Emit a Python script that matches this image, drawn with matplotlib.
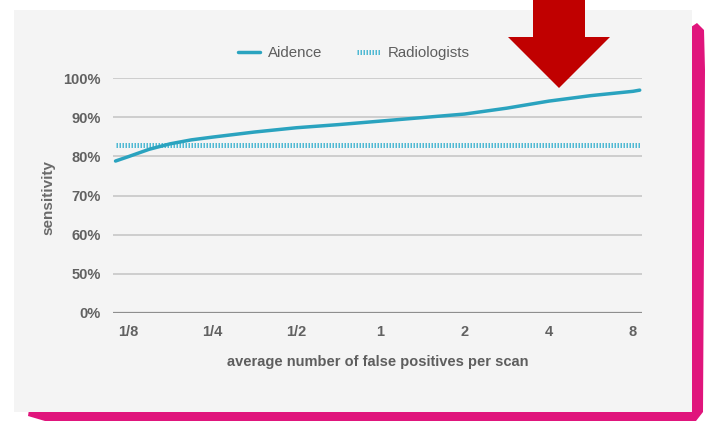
import numpy as np
import matplotlib
matplotlib.use("Agg")
import matplotlib.pyplot as plt
from matplotlib.patches import Rectangle, Polygon

# ---- data ----
aidence_x = [2**-3.15, 1/8, 2**-2.75, 2**-2.5, 2**-2.25, 1/4, 2**-1.5, 1/2,
             2**-0.5, 1, 2**0.5, 2, 2**1.5, 4, 2**2.5, 8, 2**3.08]
aidence_y = [78.8, 79.9, 81.8, 83.2, 84.2, 84.9, 86.2, 87.3,
             88.1, 89.0, 89.9, 90.8, 92.3, 94.1, 95.5, 96.6, 96.9]
radiologists_x = [2**-3.15, 2**3.08]
radiologists_y = [83.0, 83.0]
x_ticks = [1/8, 1/4, 1/2, 1, 2, 4, 8]
x_ticklabels = ["1/8", "1/4", "1/2", "1", "2", "4", "8"]
y_ticks = [0, 50, 60, 70, 80, 90, 100]
y_ticklabels = ["0%", "50%", "60%", "70%", "80%", "90%", "100%"]

W, H = 705, 422
plt.rcParams['font.family'] = ['Liberation Sans', 'DejaVu Sans']
fig = plt.figure(figsize=(W/100, H/100), dpi=100)
fig.patch.set_facecolor("white")

def px(x, y):
    return (x / W, 1 - y / H)

# pink shadow
shadow = [(30, 403), (690, 403), (691, 27), (697, 23), (704, 30), (705, 70),
          (703, 412), (696, 421), (45, 421), (28, 416)]
fig.add_artist(Polygon([px(*p) for p in shadow], closed=True,
                       facecolor="#E0157C", edgecolor="none", zorder=-2,
                       transform=fig.transFigure))
# card
fig.add_artist(Rectangle(px(14, 412), (692 - 14) / W, (412 - 10) / H,
                         facecolor="#F4F4F4", edgecolor="none", zorder=-1,
                         transform=fig.transFigure))

ax = fig.add_axes([113 / W, (H - 313) / H, (642 - 113) / W, (313 - 78) / H])
ax.set_facecolor("none")

def fwd(v):
    v = np.asarray(v, dtype=float)
    return np.where(v < 50, v / 50.0, 1 + (v - 50) / 10.0)

def inv(u):
    u = np.asarray(u, dtype=float)
    return np.where(u < 1, u * 50.0, 50 + (u - 1) * 10.0)

ax.set_xscale("log", base=2)
ax.set_yscale("function", functions=(fwd, inv))
ax.set_xlim(2**-3.18, 2**3.107)
ax.set_ylim(0, 100)

for yv in y_ticks:
    if yv == 0:
        ax.axhline(yv, color="#8E8E8E", lw=1.6, zorder=1)
    else:
        ax.axhline(yv, color="#CDCDCD", lw=1.4, zorder=1)

ax.plot(aidence_x, aidence_y, color="#2AA3BF", lw=2.5, solid_capstyle="round",
        label="Aidence", zorder=3)
ax.plot(radiologists_x, radiologists_y, color="#4FB9D3", lw=3.6,
        linestyle=(0, (0.3, 0.3)), label="Radiologists", zorder=2)

ax.set_xticks(x_ticks)
ax.set_xticklabels(x_ticklabels)
ax.xaxis.set_minor_locator(matplotlib.ticker.NullLocator())
ax.set_yticks(y_ticks)
ax.set_yticklabels(y_ticklabels)
ax.yaxis.set_minor_locator(matplotlib.ticker.NullLocator())
ax.tick_params(axis="both", length=0, colors="#616161", labelsize=10.5)
ax.tick_params(axis="y", pad=9)
ax.tick_params(axis="x", pad=9)
for lab in ax.get_xticklabels() + ax.get_yticklabels():
    lab.set_fontweight("bold")
for s in ax.spines.values():
    s.set_visible(False)

ax.set_xlabel("average number of false positives per scan", fontsize=10.5,
              fontweight="bold", color="#5E5E5E", labelpad=11)
ax.set_ylabel("sensitivity", fontsize=11, fontweight="bold",
              color="#6A6A6A")
ax.yaxis.set_label_coords(-0.108, 0.49)

leg = ax.legend(loc="center", bbox_to_anchor=(0.455, 1.106), ncol=2,
                frameon=False, fontsize=10.8, handlelength=1.5,
                handletextpad=0.55, columnspacing=2.3)
for t in leg.get_texts():
    t.set_color("#5E5E5E")

# red arrow
arrow = [(533, 0), (585, 0), (585, 37), (610, 37), (559, 88), (508, 37), (533, 37)]
fig.add_artist(Polygon([px(*p) for p in arrow], closed=True,
                       facecolor="#C00000", edgecolor="none", zorder=5,
                       transform=fig.transFigure))

fig.savefig("out.png", dpi=100, facecolor="white")
